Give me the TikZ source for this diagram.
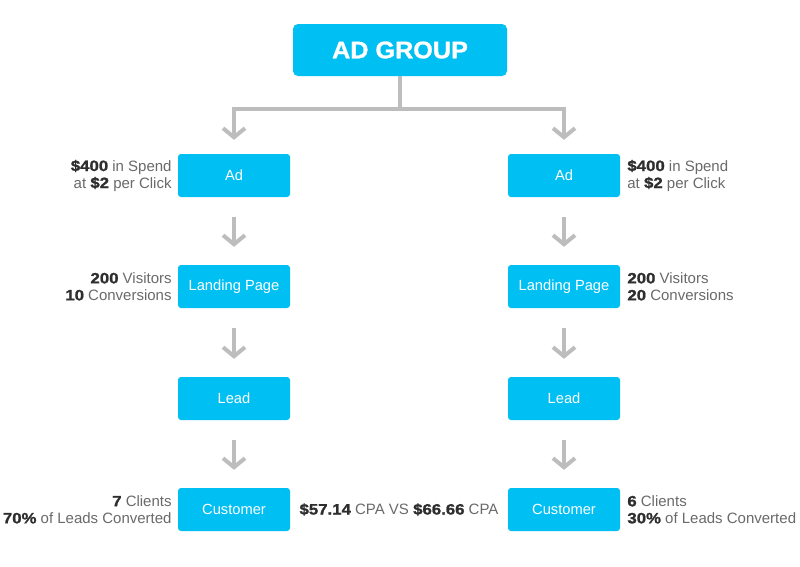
\documentclass[tikz,border=0pt]{standalone}
\usepackage{fontspec}
\setmainfont{Liberation Sans}
\newfontface\heavyface{Liberation Sans Bold}[FakeStretch=1.12, FakeBold=1.2]
\newfontface\titleface{Liberation Sans Bold}[FakeStretch=1.05, FakeBold=1.2]
\usetikzlibrary{arrows.meta}
\definecolor{cyanbox}{HTML}{00BFF2}
\definecolor{connGray}{HTML}{BDBDBD}
\definecolor{darktext}{HTML}{2E2E2E}
\definecolor{graytext}{HTML}{6A6A6A}
\newcommand\numb[1]{{\color{darktext}\heavyface #1}}
\begin{document}
\begin{tikzpicture}[x=1pt,y=-1pt,
  box/.style={fill=cyanbox, rounded corners=3pt, minimum width=112pt, minimum height=43pt,
    text=white, font=\fontsize{14.7}{18}\selectfont, inner sep=0pt},
  topbox/.style={fill=cyanbox, rounded corners=5pt, minimum width=214pt, minimum height=52pt,
    text=white, font=\fontsize{24}{30}\selectfont\titleface, inner sep=0pt},
  conn/.style={draw=connGray, line width=4pt},
  arr/.style={conn, -{Straight Barb[length=9pt,width=22pt,line width=4pt]}},
  lbl/.style={text=graytext, font=\fontsize{15}{17}\selectfont, inner sep=0pt},
  lbll/.style={lbl, anchor=east, align=right},
  lblr/.style={lbl, anchor=west, align=left}
]
\useasboundingbox (0,0) rectangle (800,566);
\fill[white] (0,0) rectangle (800,566);

\node[topbox] (adgroup) at (400,50) {AD GROUP};

\node[box] (adL) at (234,175.5) {Ad};
\node[box] (lpL) at (234,286.5) {Landing Page};
\node[box] (leadL) at (234,398.5) {Lead};
\node[box] (custL) at (234,509.5) {Customer};

\node[box] (adR) at (564,175.5) {Ad};
\node[box] (lpR) at (564,286.5) {Landing Page};
\node[box] (leadR) at (564,398.5) {Lead};
\node[box] (custR) at (564,509.5) {Customer};

\coordinate (split) at (400,109);

\draw[conn] (adgroup.south) -- (split);
\draw[arr, shorten >=14pt] (split) -| (adL.north);
\draw[arr, shorten >=14pt] (split) -| (adR.north);

\foreach \a/\b in {adL/lpL, lpL/leadL, leadL/custL, adR/lpR, lpR/leadR, leadR/custR}{
  \draw[arr, shorten <=20pt, shorten >=18pt] (\a.south) -- (\b.north);
}

\node[lbll] (lblAdL) at ([xshift=-6pt]adL.west) {\numb{\$400} in Spend\\at \numb{\$2} per Click};
\node[lbll] (lblLpL) at ([xshift=-6pt]lpL.west) {\numb{200} Visitors\\\numb{10} Conversions};
\node[lbll] (lblCuL) at ([xshift=-6pt]custL.west) {\numb{7} Clients\\\numb{70\%} of Leads Converted};

\node[lblr] (lblAdR) at ([xshift=7pt]adR.east) {\numb{\$400} in Spend\\at \numb{\$2} per Click};
\node[lblr] (lblLpR) at ([xshift=7pt]lpR.east) {\numb{200} Visitors\\\numb{20} Conversions};
\node[lblr] (lblCuR) at ([xshift=7pt]custR.east) {\numb{6} Clients\\\numb{30\%} of Leads Converted};

\node[lbl] (cpa) at (399,509.5) {\numb{\$57.14} CPA VS \numb{\$66.66} CPA};
\end{tikzpicture}
\end{document}
